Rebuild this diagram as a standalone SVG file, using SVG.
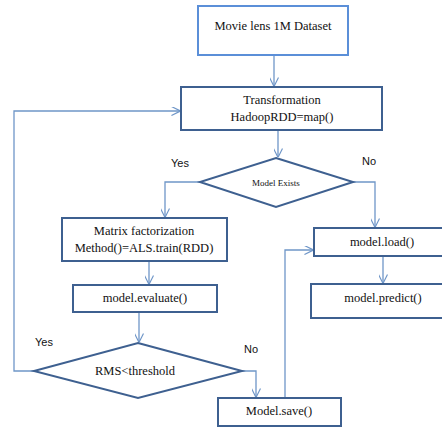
<svg xmlns="http://www.w3.org/2000/svg" width="442" height="428" viewBox="0 0 442 428">
<style>
.box{fill:#fff;stroke:#3e6090;stroke-width:2}
.lbox{fill:#fff;stroke:#5b8fd8;stroke-width:2}
.t{font-family:'Liberation Serif',Times,'DejaVu Serif',serif;font-size:12.5px;fill:#111;text-anchor:middle}
.s{font-family:'Liberation Sans',Arial,sans-serif;font-size:11px;fill:#111;text-anchor:middle}
.c{fill:none;stroke:#6f96c8;stroke-width:1.3}
</style>
<defs>
<marker id="ah" viewBox="0 0 10 10" refX="9.5" refY="5" markerWidth="9" markerHeight="9" markerUnits="userSpaceOnUse" orient="auto">
<path d="M0,0 L10,5 L0,10" fill="none" stroke="#6f96c8" stroke-width="1.3"/>
</marker>
</defs>
<g id="connectors">
<path class="c" d="M274,55 V86" marker-end="url(#ah)"/>
<path class="c" d="M278,130 V157" marker-end="url(#ah)"/>
<path class="c" d="M200,182 H165 V217" marker-end="url(#ah)"/>
<path class="c" d="M353,182 H375 V227" marker-end="url(#ah)"/>
<path class="c" d="M149,262 V284" marker-end="url(#ah)"/>
<path class="c" d="M383,256 V283" marker-end="url(#ah)"/>
<path class="c" d="M139,312 V342" marker-end="url(#ah)"/>
<path class="c" d="M34,371 H14 V111 H180" marker-end="url(#ah)"/>
<path class="c" d="M242,371 H256 V397" marker-end="url(#ah)"/>
<path class="c" d="M285,397 V250 H313" marker-end="url(#ah)"/>
</g>
<g id="n-dataset">
<rect class="lbox" x="198" y="6" width="150" height="49"/>
<text class="t" x="273" y="30" font-family="Liberation Serif, serif">Movie lens  1M Dataset</text>
</g>
<g id="n-transform">
<rect class="box" x="181" y="87" width="201" height="43"/>
<text class="t" x="282" y="104">Transformation</text>
<text class="t" x="282" y="121">HadoopRDD=map()</text>
</g>
<g id="n-exists">
<polygon class="box" points="276,158 353,182 276,207 200,182"/>
<text class="t" x="276" y="186" style="font-size:9px">Model Exists</text>
</g>
<g id="n-matrix">
<rect class="box" x="62" y="218" width="165" height="43"/>
<text class="t" x="144" y="235">Matrix  factorization</text>
<text class="t" x="144" y="252">Method()=ALS.train(RDD)</text>
</g>
<g id="n-load">
<rect class="box" x="314" y="228" width="140" height="28"/>
<text class="t" x="382" y="246">model.load()</text>
</g>
<g id="n-evaluate">
<rect class="box" x="73" y="285" width="144" height="27"/>
<text class="t" x="145" y="302">model.evaluate()</text>
</g>
<g id="n-predict">
<rect class="box" x="311" y="284" width="143" height="34"/>
<text class="t" x="383" y="302">model.predict()</text>
</g>
<g id="n-rms">
<polygon class="box" points="138,343 242,371 138,398 34,371"/>
<text class="t" x="135" y="375">RMS&lt;threshold</text>
</g>
<g id="n-save">
<rect class="box" x="218" y="398" width="123" height="28"/>
<text class="t" x="279" y="415">Model.save()</text>
</g>
<g id="labels">
<text class="s" x="180" y="167">Yes</text>
<text class="s" x="369" y="165">No</text>
<text class="s" x="44" y="346">Yes</text>
<text class="s" x="251" y="353">No</text>
</g>
</svg>
